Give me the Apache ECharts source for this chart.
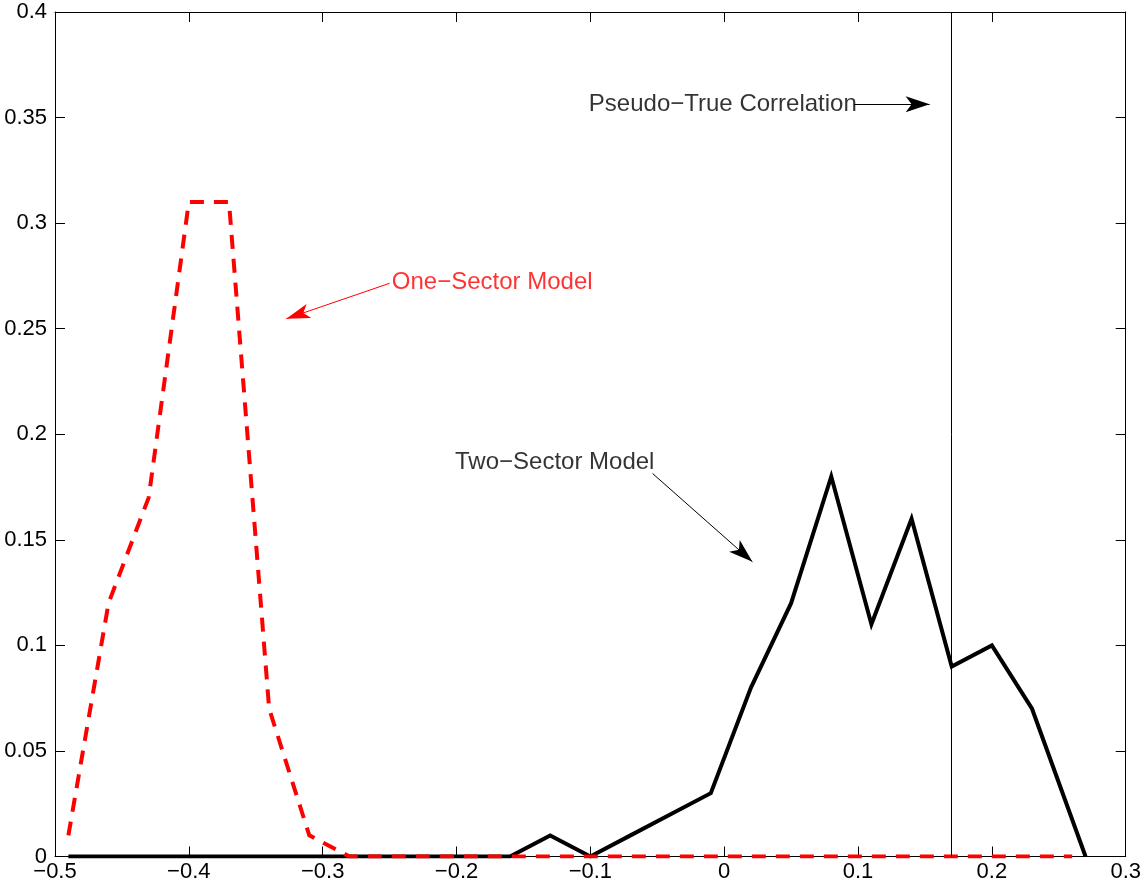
<!DOCTYPE html>
<html>
<head>
<meta charset="utf-8">
<script src="https://cdn.jsdelivr.net/npm/echarts@6/dist/echarts.min.js"></script>
<style>
  html, body { margin: 0; padding: 0; background: #fff; }
  #chart { width: 1144px; height: 893px; }
</style>
</head>
<body>
<div id="chart"></div>
<script>
// Correlation grid shared by both densities
const corrGrid = [-0.49, -0.46, -0.43, -0.40, -0.37, -0.34, -0.31, -0.28, -0.25, -0.22,
                  -0.19, -0.16, -0.13, -0.10, -0.07, -0.04, -0.01, 0.02, 0.05, 0.08,
                  0.11, 0.14, 0.17, 0.20, 0.23, 0.26];

// One-sector model density (red dashed)
const oneSector = [0.01, 0.12, 0.17, 0.31, 0.31, 0.07, 0.01, 0, 0, 0,
                   0, 0, 0, 0, 0, 0, 0, 0, 0, 0,
                   0, 0, 0, 0, 0, 0];

// Two-sector model density (black solid)
const twoSectorX = [-0.49, -0.46, -0.43, -0.40, -0.37, -0.34, -0.31, -0.28, -0.25, -0.22,
                    -0.19, -0.16, -0.13, -0.10, -0.07, -0.04, -0.01, 0.02, 0.05, 0.08,
                    0.11, 0.14, 0.17, 0.20, 0.23, 0.27];
const twoSector = [0, 0, 0, 0, 0, 0, 0, 0, 0, 0,
                   0, 0, 0.01, 0, 0.01, 0.02, 0.03, 0.08, 0.12, 0.18,
                   0.11, 0.16, 0.09, 0.10, 0.07, 0];

// Pseudo-true correlation marker
const pseudoTrue = 0.17;

const xTickLabels = ['\u22120.5', '\u22120.4', '\u22120.3', '\u22120.2', '\u22120.1', '0', '0.1', '0.2', '0.3'];
const yTickLabels = ['0', '0.05', '0.1', '0.15', '0.2', '0.25', '0.3', '0.35', '0.4'];

const FONT = '"Liberation Sans", Arial, Helvetica, sans-serif';

const chart = echarts.init(document.getElementById('chart'), null, { renderer: 'canvas' });

const boxAxisCommon = {
  axisLine: { show: true, onZero: false, lineStyle: { color: '#000', width: 1 } },
  axisTick: { show: true, inside: true, length: 10, lineStyle: { color: '#000', width: 1 } },
  splitLine: { show: false }
};

function arrow(from, to, color, head) {
  return [
    { coord: from, symbol: 'none' },
    { coord: to, symbol: 'arrow', symbolSize: head, lineStyle: { color: color } }
  ];
}

const option = {
  animation: false,
  backgroundColor: '#fff',
  grid: { left: 55, right: 17, top: 12, bottom: 36.5, containLabel: false },
  xAxis: [
    Object.assign({}, boxAxisCommon, {
      type: 'value', position: 'bottom', min: -0.5, max: 0.3, interval: 0.1,
      axisLabel: {
        show: true, margin: 4, color: '#000', fontSize: 22, fontFamily: FONT,
        showMinLabel: true, showMaxLabel: true,
        formatter: v => xTickLabels[Math.round((v + 0.5) * 10)]
      }
    }),
    Object.assign({}, boxAxisCommon, {
      type: 'value', position: 'top', min: -0.5, max: 0.3, interval: 0.1,
      axisLabel: { show: false }
    })
  ],
  yAxis: [
    Object.assign({}, boxAxisCommon, {
      type: 'value', position: 'left', min: 0, max: 0.4, interval: 0.05,
      axisLabel: {
        show: true, margin: 8, color: '#000', fontSize: 22, fontFamily: FONT,
        showMinLabel: true, showMaxLabel: true,
        formatter: v => yTickLabels[Math.round(v * 20)]
      }
    }),
    Object.assign({}, boxAxisCommon, {
      type: 'value', position: 'right', min: 0, max: 0.4, interval: 0.05,
      axisLabel: { show: false }
    })
  ],
  series: [
    {
      name: 'Two-Sector Model',
      type: 'line',
      xAxisIndex: 0, yAxisIndex: 0,
      data: twoSectorX.map((x, i) => [x, twoSector[i]]),
      showSymbol: false, symbol: 'none',
      lineStyle: { color: '#000', width: 4, join: 'miter' },
      z: 2,
      markLine: {
        silent: true, symbol: 'none', animation: false,
        label: { show: false },
        lineStyle: { color: '#000', width: 1, type: 'solid' },
        data: [{ xAxis: pseudoTrue }]
      }
    },
    {
      name: 'One-Sector Model',
      type: 'line',
      xAxisIndex: 0, yAxisIndex: 0,
      data: corrGrid.map((x, i) => [x, oneSector[i]]),
      showSymbol: false, symbol: 'none',
      lineStyle: { color: '#ff0000', width: 4, type: [14, 10], join: 'miter' },
      z: 3
    },
    {
      name: 'notes',
      type: 'scatter',
      xAxisIndex: 0, yAxisIndex: 0,
      symbolSize: 1,
      itemStyle: { color: 'rgba(0,0,0,0)' },
      z: 4,
      label: {
        show: true, position: 'right', distance: 0,
        fontSize: 24, fontFamily: FONT,
        formatter: p => p.name
      },
      data: [
        { name: 'Pseudo\u2212True Correlation', value: [-0.1015, 0.3563], label: { color: '#000' } },
        { name: 'One\u2212Sector Model', value: [-0.2487, 0.2719], label: { color: '#ff0000' } },
        { name: 'Two\u2212Sector Model', value: [-0.2015, 0.1869], label: { color: '#000' } }
      ],
      markLine: {
        silent: true, animation: false,
        label: { show: false },
        lineStyle: { color: '#000', width: 1, type: 'solid' },
        data: [
          arrow([0.097, 0.3563], [0.1535, 0.3563], '#000', [12, 24]),
          arrow([-0.25, 0.2715], [-0.3272, 0.2547], '#ff0000', [11, 24]),
          arrow([-0.0535, 0.1814], [0.0211, 0.1396], '#000', [12, 24])
        ]
      }
    }
  ]
};

chart.setOption(option);
</script>
</body>
</html>
